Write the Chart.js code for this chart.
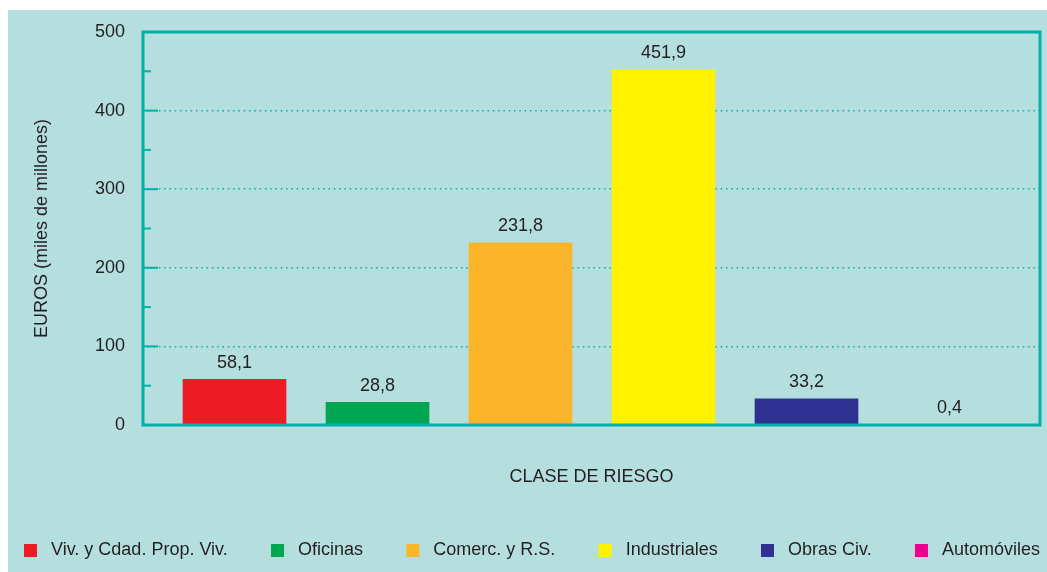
<!DOCTYPE html>
<html>
<head>
<meta charset="utf-8">
<script src="https://cdn.jsdelivr.net/npm/chart.js@4/dist/chart.umd.min.js"></script>
<style>
  html, body { margin: 0; padding: 0; background: #ffffff; }
  #wrap { position: absolute; left: 8px; top: 10px; width: 1039px; height: 562px; background: #b5dfdf; }
</style>
</head>
<body>
<div id="wrap"><canvas id="chart" width="1039" height="562"></canvas></div>
<script>
// data
const categories = ['Viv. y Cdad. Prop. Viv.', 'Oficinas', 'Comerc. y R.S.', 'Industriales', 'Obras Civ.', 'Automóviles'];
const values = [58.1, 28.8, 231.8, 451.9, 33.2, 0.4];
const colors = ['#ed1c24', '#00a651', '#fbb52b', '#fff200', '#2e3192', '#ec008c'];
const yTicks = [0, 100, 200, 300, 400, 500];

const TEAL = '#00b0aa';
const INK = '#231f20';
const FONT = '"Liberation Sans", Arial, Helvetica, sans-serif';

// frame + inside ticks, like the original plot box
const framePlugin = {
  id: 'frame',
  afterDatasetsDraw(chart) {
    const { ctx, chartArea: a, scales: { y } } = chart;
    ctx.save();
    ctx.strokeStyle = TEAL;
    ctx.lineWidth = 2;
    for (let v = 0; v <= 500; v += 50) {
      const py = y.getPixelForValue(v);
      const len = yTicks.includes(v) ? 15 : 8;
      ctx.beginPath();
      ctx.moveTo(a.left, py);
      ctx.lineTo(a.left + len, py);
      ctx.stroke();
    }
    ctx.lineWidth = 3;
    ctx.strokeRect(a.left, a.top, a.right - a.left, a.bottom - a.top);
    ctx.restore();
  }
};

// value labels above the bars, comma decimals
const valueLabels = {
  id: 'valueLabels',
  afterDatasetsDraw(chart) {
    const { ctx } = chart;
    const meta = chart.getDatasetMeta(0);
    ctx.save();
    ctx.font = '18px ' + FONT;
    ctx.fillStyle = INK;
    ctx.textAlign = 'center';
    ctx.textBaseline = 'middle';
    meta.data.forEach((bar, i) => {
      ctx.fillText(values[i].toFixed(1).replace('.', ','), bar.x, bar.y - 16.5);
    });
    ctx.restore();
  }
};

// one row legend along the bottom, spread over the full width like the original
const bottomLegend = {
  id: 'bottomLegend',
  afterDraw(chart) {
    const { ctx, width, height } = chart;
    const cy = height - 21.5;
    const left = 16, right = width - 7;
    ctx.save();
    ctx.font = '18px ' + FONT;
    ctx.textBaseline = 'middle';
    ctx.textAlign = 'left';
    const widths = categories.map(c => ctx.measureText(c).width);
    const used = widths.reduce((s, w) => s + 27 + w, 0);
    const gap = (right - left - used) / (categories.length - 1);
    let x = left;
    categories.forEach((c, i) => {
      ctx.fillStyle = colors[i];
      ctx.fillRect(x, cy - 6.5, 13, 13);
      ctx.fillStyle = INK;
      ctx.fillText(c, x + 27, cy);
      x += 27 + widths[i] + gap;
    });
    ctx.restore();
  }
};

new Chart(document.getElementById('chart'), {
  type: 'bar',
  data: {
    datasets: [{
      data: values.map((v, i) => ({ x: i, y: v })),
      backgroundColor: colors,
      borderWidth: 0,
      barThickness: 103
    }]
  },
  plugins: [framePlugin, valueLabels, bottomLegend],
  options: {
    animation: false,
    responsive: false,
    layout: { padding: { top: 22, right: 7, bottom: 74.5, left: 0 } },
    plugins: {
      tooltip: { enabled: false },
      legend: { display: false }
    },
    scales: {
      x: {
        type: 'linear',
        offset: false,
        min: -0.64,
        max: 5.633,
        grid: { display: false, offset: false },
        border: { display: false },
        ticks: { display: false },
        title: {
          display: true,
          text: 'CLASE DE RIESGO',
          color: INK,
          font: { family: FONT, size: 18 },
          padding: { top: 0, bottom: 9.7 }
        },
        afterFit: (s) => { s.height = 72.5; }
      },
      y: {
        min: 0,
        max: 500,
        grid: {
          drawTicks: false,
          tickLength: 0,
          lineWidth: 1.5,
          color: (c) => (c.tick && c.tick.value % 100 === 0 && c.tick.value > 0 && c.tick.value < 500) ? TEAL : 'rgba(0,0,0,0)'
        },
        border: { display: false, dash: [1.5, 3.8] },
        ticks: {
          stepSize: 50,
          autoSkip: false,
          padding: 18,
          color: INK,
          font: { family: FONT, size: 18 },
          callback: (v) => yTicks.includes(v) ? String(v) : ''
        },
        title: {
          display: true,
          text: 'EUROS (miles de millones)',
          color: INK,
          font: { family: FONT, size: 18 },
          padding: { top: 23.2, bottom: 0 }
        },
        afterFit: (s) => {
          s.width = 135;
          s.paddingTop = 0;
          s.paddingBottom = 0;
        }
      }
    }
  }
});
</script>
</body>
</html>
